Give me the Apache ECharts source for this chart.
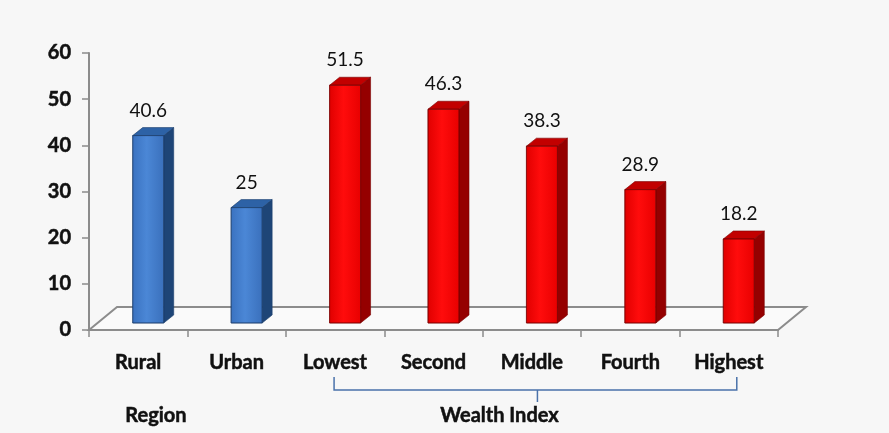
<!DOCTYPE html>
<html>
<head>
<meta charset="utf-8">
<script src="https://cdn.jsdelivr.net/npm/echarts@6/dist/echarts.min.js"></script>
<style>
  html, body { margin: 0; padding: 0; background: #f7f7f7; }
  #chart { width: 889px; height: 433px; }
</style>
</head>
<body>
<div id="chart"></div>
<script>
// Categories and values
const categories = ['Rural', 'Urban', 'Lowest', 'Second', 'Middle', 'Fourth', 'Highest'];
const values = [40.6, 25, 51.5, 46.3, 38.3, 28.9, 18.2];
const groupOf = ['region', 'region', 'wealth', 'wealth', 'wealth', 'wealth', 'wealth'];
const yTicks = [0, 10, 20, 30, 40, 50, 60];
const groupLabels = { region: 'Region', wealth: 'Wealth Index' };

const FONT = 'Lato, "Open Sans", "Liberation Sans", sans-serif';

// Shading for the three visible faces of each 3D bar
const palette = {
  region: { front: ['#3a72c0', '#4b87d6', '#3a70bc'], side: '#1e4577', top: '#2d62a6', edge: '#1b3e6c' },
  wealth: { front: ['#e00000', '#ff0c0c', '#e80000'], side: '#950000', top: '#c20000', edge: '#7a0000' }
};

// Depth of the floor and of the bars (screen offsets)
const FLOOR_DX = 28, FLOOR_DY = -23;
const BAR_OX = 10, BAR_OY = -7;
const BAR_DX = 10, BAR_DY = -8;

const chart = echarts.init(document.getElementById('chart'), null, { renderer: 'canvas' });

function renderFloor(params, api) {
  const bw = api.size([1, 0])[0];
  const first = api.coord([0, 0]);
  const last = api.coord([categories.length - 1, 0]);
  const L = first[0] - bw / 2, R = last[0] + bw / 2, y0 = first[1];
  return {
    type: 'polygon',
    shape: { points: [[L, y0], [L + FLOOR_DX, y0 + FLOOR_DY], [R + FLOOR_DX, y0 + FLOOR_DY], [R, y0]] },
    style: { fill: 'rgba(255,255,255,0.35)', stroke: '#8c8c8c', lineWidth: 2 },
    silent: true
  };
}

function renderBar(params, api) {
  const i = api.value(0);
  const v = api.value(1);
  const base = api.coord([i, 0]);
  const top = api.coord([i, v]);
  const bw = api.size([1, 0])[0];
  const w = bw * 0.315;
  const x0 = base[0] + BAR_OX - w / 2, x1 = x0 + w;
  const yb = base[1] + BAR_OY, yt = top[1] + BAR_OY;
  const c = palette[groupOf[i]];
  return {
    type: 'group',
    children: [
      {
        type: 'polygon',
        shape: { points: [[x1, yt], [x1 + BAR_DX, yt + BAR_DY], [x1 + BAR_DX, yb + BAR_DY], [x1, yb]] },
        style: { fill: c.side, stroke: c.edge, lineWidth: 0.6 }
      },
      {
        type: 'polygon',
        shape: { points: [[x0, yt], [x0 + BAR_DX, yt + BAR_DY], [x1 + BAR_DX, yt + BAR_DY], [x1, yt]] },
        style: { fill: c.top, stroke: c.edge, lineWidth: 0.6 }
      },
      {
        type: 'rect',
        shape: { x: x0, y: yt, width: w, height: yb - yt },
        style: {
          fill: new echarts.graphic.LinearGradient(0, 0, 1, 0, [
            { offset: 0, color: c.front[0] },
            { offset: 0.45, color: c.front[1] },
            { offset: 1, color: c.front[2] }
          ]),
          stroke: c.edge, lineWidth: 0.6
        }
      },
      {
        type: 'text',
        x: (x0 + x1) / 2,
        y: yt - 25,
        style: {
          text: String(v),
          fill: '#111',
          font: '19px ' + FONT,
          align: 'center',
          verticalAlign: 'middle'
        }
      }
    ]
  };
}

// Bold captions get a hairline outline so they read as heavy as a black weight
const heavyText = { textBorderColor: '#111', textBorderWidth: 0.5 };

chart.setOption({
  backgroundColor: '#f7f7f7',
  animation: false,
  grid: { left: 89, right: 111, top: 53, bottom: 103 },
  xAxis: {
    type: 'category',
    data: categories,
    axisLine: { lineStyle: { color: '#8c8c8c', width: 2 } },
    axisTick: { show: true, interval: 0, length: 7, lineStyle: { color: '#8c8c8c', width: 1.5 } },
    axisLabel: Object.assign({
      interval: 0,
      margin: 23,
      color: '#111',
      fontFamily: FONT,
      fontWeight: 'bold',
      fontSize: 20
    }, heavyText)
  },
  yAxis: {
    type: 'value',
    min: 0,
    max: 60,
    interval: 10,
    splitLine: { show: false },
    axisLine: { show: true, lineStyle: { color: '#8c8c8c', width: 2 } },
    axisTick: { show: true, length: 7, lineStyle: { color: '#8c8c8c', width: 1.5 } },
    axisLabel: Object.assign({
      margin: 18,
      color: '#111',
      fontFamily: FONT,
      fontWeight: 'bold',
      fontSize: 20,
      formatter: function (val) { return yTicks.indexOf(val) >= 0 ? String(val) : ''; }
    }, heavyText)
  },
  series: [
    {
      type: 'custom',
      renderItem: renderFloor,
      data: [[0, 0]],
      z: 1,
      silent: true
    },
    {
      type: 'custom',
      renderItem: renderBar,
      data: values.map(function (v, i) { return [i, v]; }),
      z: 3
    }
  ]
});

// Group captions and the bracket spanning the wealth quintiles
function px(i) { return chart.convertToPixel({ xAxisIndex: 0 }, categories[i]); }
const bandW = px(1) - px(0);
const firstWealth = groupOf.indexOf('wealth');
const lastWealth = groupOf.lastIndexOf('wealth');
const bxL = px(firstWealth) - 1;
const bxR = px(lastWealth) + 8;
const bxM = (bxL + bxR) / 2 + 2;
const bTop = 377, bY = 390, bTip = 402;

chart.setOption({
  graphic: [
    {
      type: 'polyline',
      silent: true,
      shape: { points: [[bxL, bTop], [bxL, bY], [bxR, bY], [bxR, bTop]] },
      style: { stroke: '#4a72aa', lineWidth: 1.5, fill: null }
    },
    {
      type: 'line',
      silent: true,
      shape: { x1: bxM, y1: bY, x2: bxM, y2: bTip },
      style: { stroke: '#4a72aa', lineWidth: 1.5 }
    },
    {
      type: 'text',
      silent: true,
      x: px(0) + bandW * 0.18,
      y: 416,
      style: {
        text: groupLabels.region,
        font: 'bold 20px ' + FONT,
        fill: '#111',
        stroke: '#111',
        lineWidth: 0.5,
        align: 'center',
        verticalAlign: 'middle'
      }
    },
    {
      type: 'text',
      silent: true,
      x: bxM - 38,
      y: 416,
      style: {
        text: groupLabels.wealth,
        font: 'bold 20px ' + FONT,
        fill: '#111',
        stroke: '#111',
        lineWidth: 0.5,
        align: 'center',
        verticalAlign: 'middle'
      }
    }
  ]
});
</script>
</body>
</html>
